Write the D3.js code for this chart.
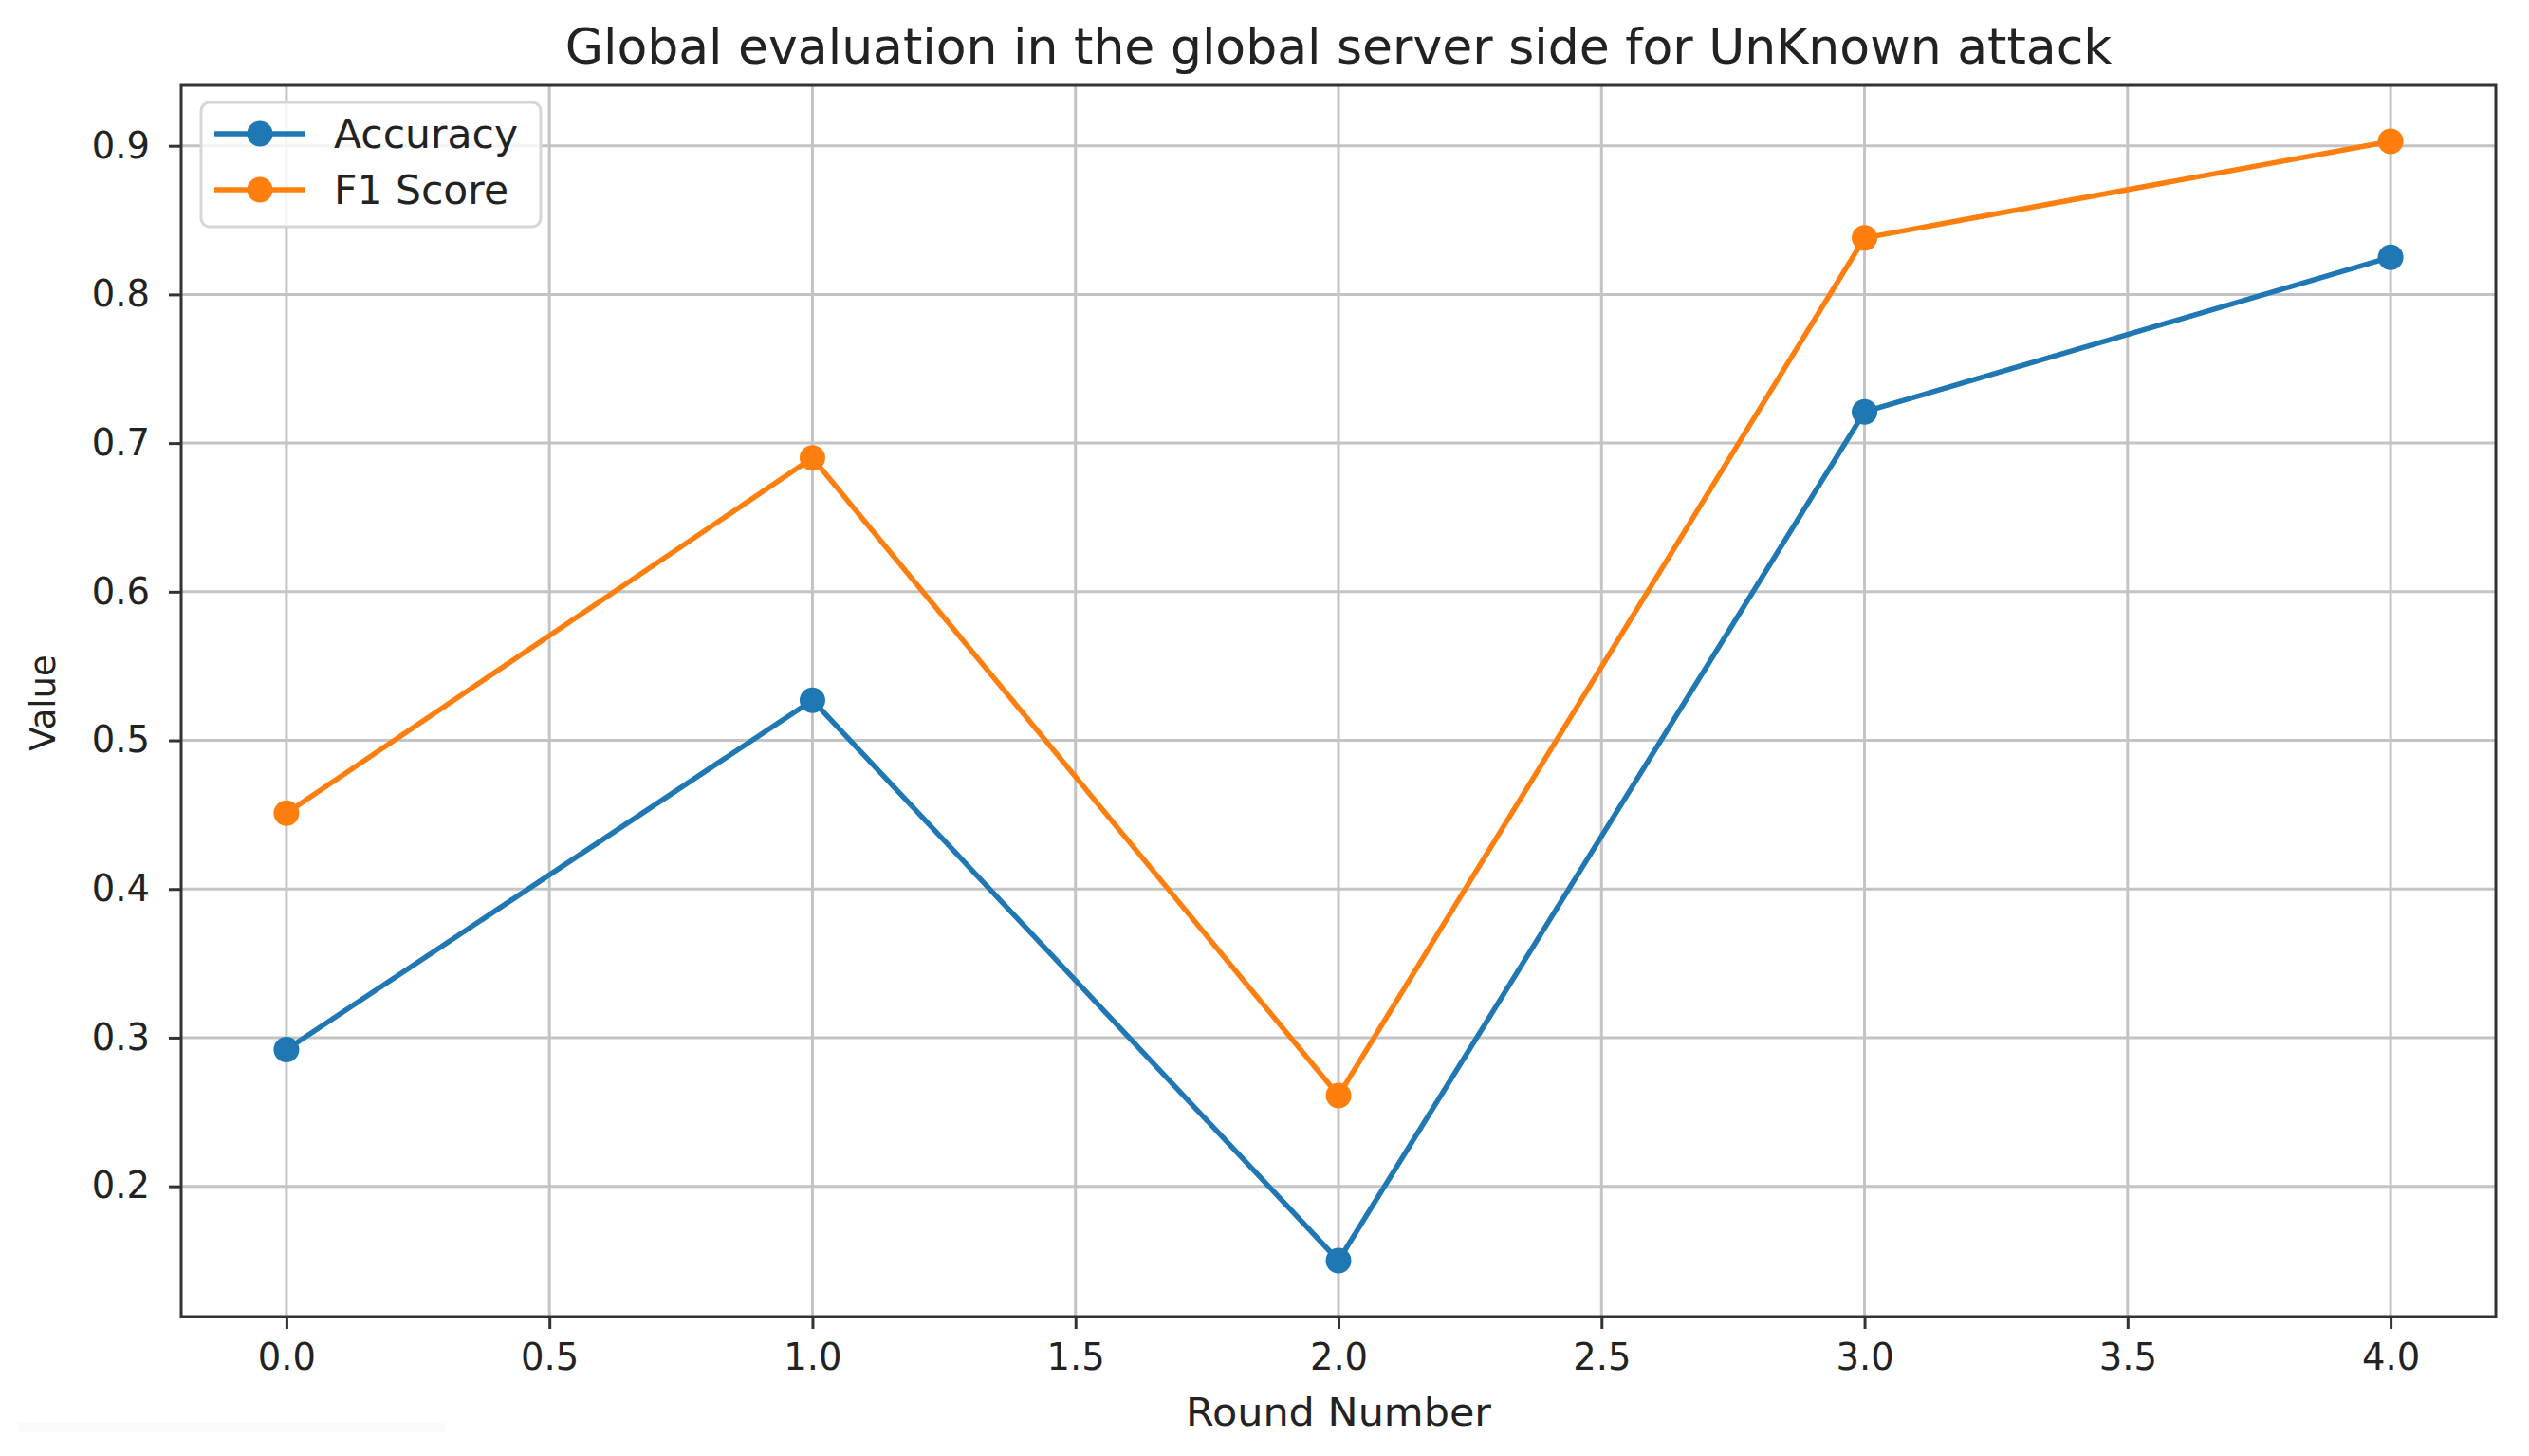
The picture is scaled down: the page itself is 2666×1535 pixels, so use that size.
<!DOCTYPE html>
<html>
<head>
<meta charset="utf-8">
<script src="https://cdn.jsdelivr.net/npm/d3@7"></script>
<style>
  html, body { margin: 0; padding: 0; background: #fff; }
  svg { display: block; }
  text { font-family: "DejaVu Sans", sans-serif; fill: #222; }
</style>
</head>
<body>
<script>
// ---- data ----
const rounds = [0, 1, 2, 3, 4];
const accuracy = [0.292, 0.527, 0.150, 0.721, 0.825];
const f1Score = [0.451, 0.690, 0.261, 0.838, 0.903];
const seriesNames = ["Accuracy", "F1 Score"];
const xTicks = [0, 0.5, 1, 1.5, 2, 2.5, 3, 3.5, 4];
const yTicks = [0.2, 0.3, 0.4, 0.5, 0.6, 0.7, 0.8, 0.9];
const titleText = "Global evaluation in the global server side for UnKnown attack";
const xLabel = "Round Number";
const yLabel = "Value";

// ---- layout ----
const W = 2666, H = 1535;
const plot = { left: 191, right: 2631, top: 90, bottom: 1388 };
const colors = ["#1f77b4", "#ff7f0e"];

const svg = d3.select("body").append("svg").attr("width", W).attr("height", H);

// matplotlib-style 5% margins
const xMin = d3.min(rounds), xMax = d3.max(rounds);
const xPad = (xMax - xMin) * 0.05;
const allY = accuracy.concat(f1Score);
const yMin = d3.min(allY), yMax = d3.max(allY);
const yPad = (yMax - yMin) * 0.05;

const x = d3.scaleLinear().domain([xMin - xPad, xMax + xPad]).range([plot.left, plot.right]);
const y = d3.scaleLinear().domain([yMin - yPad, yMax + yPad]).range([plot.bottom, plot.top]);

// faint artifact line at bottom-left of the reference
svg.append("rect").attr("x", 19).attr("y", 1500).attr("width", 450).attr("height", 10)
  .attr("fill", "#fafafa");

// grid
const grid = svg.append("g");
grid.selectAll("line.vx").data(xTicks).join("line")
  .attr("x1", d => x(d)).attr("x2", d => x(d))
  .attr("y1", plot.top).attr("y2", plot.bottom)
  .attr("stroke", "#c4c4c4").attr("stroke-width", 3);
grid.selectAll("line.hy").data(yTicks).join("line")
  .attr("y1", d => y(d)).attr("y2", d => y(d))
  .attr("x1", plot.left).attr("x2", plot.right)
  .attr("stroke", "#c4c4c4").attr("stroke-width", 3);

// axes
const xAxis = d3.axisBottom(x).tickValues(xTicks).tickFormat(d3.format(".1f"))
  .tickSize(13).tickPadding(16).tickSizeOuter(0);
const yAxis = d3.axisLeft(y).tickValues(yTicks).tickFormat(d3.format(".1f"))
  .tickSize(13).tickPadding(20).tickSizeOuter(0);

const gx = svg.append("g").attr("transform", `translate(0,${plot.bottom})`).call(xAxis);
const gy = svg.append("g").attr("transform", `translate(${plot.left},0)`).call(yAxis);
[gx, gy].forEach(g => {
  g.select(".domain").remove();
  g.selectAll(".tick line").attr("stroke", "#333").attr("stroke-width", 3);
  g.selectAll(".tick text").attr("font-size", 38.5).attr("fill", "#222")
    .attr("font-family", "DejaVu Sans");
});

// spines
svg.append("rect")
  .attr("x", plot.left).attr("y", plot.top)
  .attr("width", plot.right - plot.left).attr("height", plot.bottom - plot.top)
  .attr("fill", "none").attr("stroke", "#333").attr("stroke-width", 3);

// series
const series = [accuracy, f1Score];
const line = d3.line().x((d, i) => x(rounds[i])).y(d => y(d));
series.forEach((vals, si) => {
  svg.append("path").datum(vals)
    .attr("d", line).attr("fill", "none")
    .attr("stroke", colors[si]).attr("stroke-width", 5.5)
    .attr("stroke-linejoin", "round");
  svg.append("g").selectAll("circle").data(vals).join("circle")
    .attr("cx", (d, i) => x(rounds[i])).attr("cy", d => y(d))
    .attr("r", 13.5).attr("fill", colors[si]);
});

// legend
const lg = svg.append("g");
lg.append("rect").attr("x", 212).attr("y", 108).attr("width", 358).attr("height", 131)
  .attr("rx", 9).attr("fill", "#fff").attr("fill-opacity", 0.8)
  .attr("stroke", "#d6d6d6").attr("stroke-width", 3);
seriesNames.forEach((name, i) => {
  const cy = 141 + i * 59;
  lg.append("line").attr("x1", 226).attr("x2", 321).attr("y1", cy).attr("y2", cy)
    .attr("stroke", colors[i]).attr("stroke-width", 5.5);
  lg.append("circle").attr("cx", 274).attr("cy", cy).attr("r", 13.5).attr("fill", colors[i]);
  lg.append("text").attr("x", 352).attr("y", cy).attr("dy", "0.36em")
    .attr("font-size", 42.5).text(name);
});

// title and labels
svg.append("text").attr("x", (plot.left + plot.right) / 2).attr("y", 67)
  .attr("text-anchor", "middle").attr("font-size", 52).text(titleText);
svg.append("text").attr("x", (plot.left + plot.right) / 2).attr("y", 1503)
  .attr("text-anchor", "middle").attr("font-size", 40)
  .attr("textLength", 322).attr("lengthAdjust", "spacingAndGlyphs").text(xLabel);
svg.append("text").attr("transform", `translate(58,${741}) rotate(-90)`)
  .attr("text-anchor", "middle").attr("font-size", 37).text(yLabel);
</script>
</body>
</html>
